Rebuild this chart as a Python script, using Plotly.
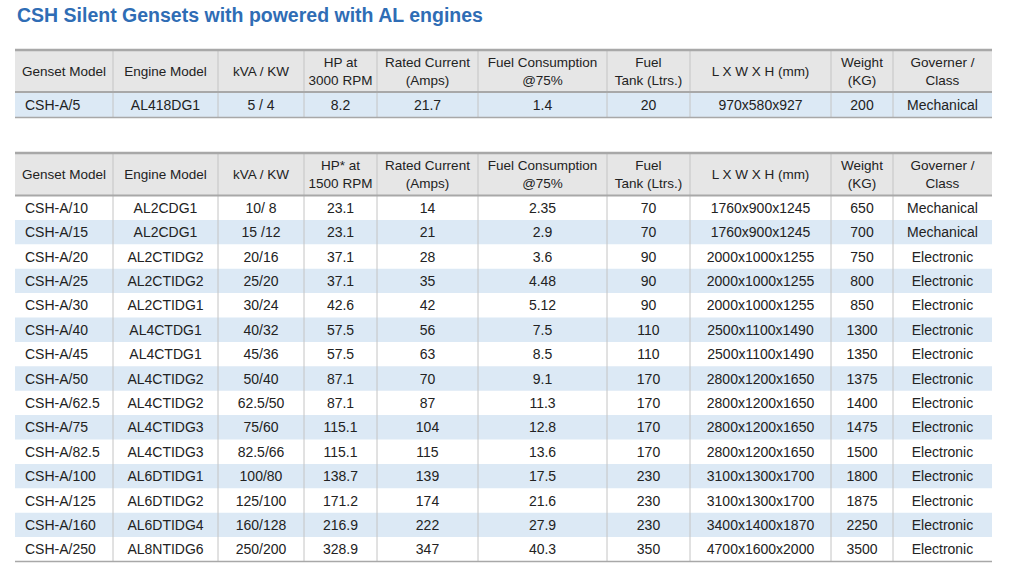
import plotly.graph_objects as go

# ---------------- data ----------------
title = "CSH Silent Gensets with powered with AL engines"

headers1 = ["Genset Model", "Engine Model", "kVA / KW", "HP at<br>3000 RPM", "Rated Current<br>(Amps)",
            "Fuel Consumption<br>@75%", "Fuel<br>Tank (Ltrs.)", "L X W X H (mm)", "Weight<br>(KG)", "Governer /<br>Class"]
headers2 = ["Genset Model", "Engine Model", "kVA / KW", "HP* at<br>1500 RPM", "Rated Current<br>(Amps)",
            "Fuel Consumption<br>@75%", "Fuel<br>Tank (Ltrs.)", "L X W X H (mm)", "Weight<br>(KG)", "Governer /<br>Class"]

t1_model = ["CSH-A/5"]
t1_engine = ["AL418DG1"]
t1_kva = ["5 / 4"]
t1_hp = ["8.2"]
t1_current = ["21.7"]
t1_fuel = ["1.4"]
t1_tank = ["20"]
t1_dims = ["970x580x927"]
t1_weight = ["200"]
t1_gov = ["Mechanical"]

t2_model = ["CSH-A/10", "CSH-A/15", "CSH-A/20", "CSH-A/25", "CSH-A/30", "CSH-A/40", "CSH-A/45", "CSH-A/50",
            "CSH-A/62.5", "CSH-A/75", "CSH-A/82.5", "CSH-A/100", "CSH-A/125", "CSH-A/160", "CSH-A/250"]
t2_engine = ["AL2CDG1", "AL2CDG1", "AL2CTIDG2", "AL2CTIDG2", "AL2CTIDG1", "AL4CTDG1", "AL4CTDG1", "AL4CTIDG2",
             "AL4CTIDG2", "AL4CTIDG3", "AL4CTIDG3", "AL6DTIDG1", "AL6DTIDG2", "AL6DTIDG4", "AL8NTIDG6"]
t2_kva = ["10/ 8", "15 /12", "20/16", "25/20", "30/24", "40/32", "45/36", "50/40", "62.5/50", "75/60",
          "82.5/66", "100/80", "125/100", "160/128", "250/200"]
t2_hp = ["23.1", "23.1", "37.1", "37.1", "42.6", "57.5", "57.5", "87.1", "87.1", "115.1", "115.1", "138.7",
         "171.2", "216.9", "328.9"]
t2_current = ["14", "21", "28", "35", "42", "56", "63", "70", "87", "104", "115", "139", "174", "222", "347"]
t2_fuel = ["2.35", "2.9", "3.6", "4.48", "5.12", "7.5", "8.5", "9.1", "11.3", "12.8", "13.6", "17.5", "21.6",
           "27.9", "40.3"]
t2_tank = ["70", "70", "90", "90", "90", "110", "110", "170", "170", "170", "170", "230", "230", "230", "350"]
t2_dims = ["1760x900x1245", "1760x900x1245", "2000x1000x1255", "2000x1000x1255", "2000x1000x1255",
           "2500x1100x1490", "2500x1100x1490", "2800x1200x1650", "2800x1200x1650", "2800x1200x1650",
           "2800x1200x1650", "3100x1300x1700", "3100x1300x1700", "3400x1400x1870", "4700x1600x2000"]
t2_weight = ["650", "700", "750", "800", "850", "1300", "1350", "1375", "1400", "1475", "1500", "1800", "1875",
             "2250", "3500"]
t2_gov = ["Mechanical", "Mechanical", "Electronic", "Electronic", "Electronic", "Electronic", "Electronic",
          "Electronic", "Electronic", "Electronic", "Electronic", "Electronic", "Electronic", "Electronic",
          "Electronic"]

table1 = [t1_model, t1_engine, t1_kva, t1_hp, t1_current, t1_fuel, t1_tank, t1_dims, t1_weight, t1_gov]
table2 = [t2_model, t2_engine, t2_kva, t2_hp, t2_current, t2_fuel, t2_tank, t2_dims, t2_weight, t2_gov]

# ---------------- layout / style ----------------
W, H = 1024, 573
col_edges = [15, 113, 218, 304, 377, 478, 607, 690, 831, 893, 992]
FONT = "Liberation Sans, Arial, Helvetica, sans-serif"
HEADER_FILL = "#e6e6e6"
STRIPE = "#dce9f5"
VLINE = "#c4c4c4"
HLINE = "#a8a8a8"
TEXT = "#222222"
TITLE_COLOR = "#2f6db5"

fig = go.Figure()
shapes = []


def draw_table(headers, columns, top, header_h, row_h, stripe_first):
    nrows = len(columns[0])
    hdr_bot = top + header_h
    bottom = hdr_bot + row_h * nrows
    # header fill
    shapes.append(dict(type="rect", xref="x", yref="y", x0=col_edges[0], x1=col_edges[-1],
                       y0=top, y1=hdr_bot, fillcolor=HEADER_FILL, line=dict(width=0), layer="below"))
    # stripes
    for i in range(nrows):
        if (i % 2 == 0) == stripe_first:
            shapes.append(dict(type="rect", xref="x", yref="y", x0=col_edges[0], x1=col_edges[-1],
                               y0=hdr_bot + row_h * i, y1=hdr_bot + row_h * (i + 1),
                               fillcolor=STRIPE, line=dict(width=0), layer="below"))
    # vertical lines
    for xe in col_edges[1:-1]:
        shapes.append(dict(type="line", xref="x", yref="y", x0=xe, x1=xe, y0=top, y1=bottom,
                           line=dict(color=VLINE, width=1)))
    # horizontal borders
    shapes.append(dict(type="line", xref="x", yref="y", x0=col_edges[0], x1=col_edges[-1], y0=top, y1=top,
                       line=dict(color=HLINE, width=2.5)))
    shapes.append(dict(type="line", xref="x", yref="y", x0=col_edges[0], x1=col_edges[-1], y0=hdr_bot,
                       y1=hdr_bot, line=dict(color=HLINE, width=2)))
    shapes.append(dict(type="line", xref="x", yref="y", x0=col_edges[0], x1=col_edges[-1], y0=bottom,
                       y1=bottom, line=dict(color=HLINE, width=1.5)))

    centers = [(col_edges[j] + col_edges[j + 1]) / 2 for j in range(len(headers))]
    # header texts
    fig.add_trace(go.Scatter(x=centers, y=[top + header_h / 2 + 1.5] * len(headers), text=headers, mode="text",
                             textposition="middle center",
                             textfont=dict(family=FONT, size=13.5, color=TEXT),
                             hoverinfo="skip", showlegend=False))
    # body texts
    ys = [hdr_bot + row_h * (i + 0.5) + 1.5 for i in range(nrows)]
    for j, col in enumerate(columns):
        if j == 0:
            xs = [col_edges[0] + 10] * nrows
            pos = "middle right"
        else:
            xs = [centers[j]] * nrows
            pos = "middle center"
        fig.add_trace(go.Scatter(x=xs, y=ys, text=col, mode="text", textposition=pos,
                                 textfont=dict(family=FONT, size=14, color=TEXT),
                                 hoverinfo="skip", showlegend=False))


draw_table(headers1, table1, top=50, header_h=42, row_h=25.5, stripe_first=True)
draw_table(headers2, table2, top=153, header_h=42.5, row_h=24.4, stripe_first=False)

fig.update_layout(
    width=W, height=H,
    margin=dict(l=0, r=0, t=0, b=0),
    paper_bgcolor="white", plot_bgcolor="white",
    shapes=shapes,
    xaxis=dict(range=[0, W], visible=False, fixedrange=True),
    yaxis=dict(range=[H, 0], visible=False, fixedrange=True),
    annotations=[dict(text="<b>" + title + "</b>", x=15, y=15, xref="x", yref="y", xanchor="left",
                      yanchor="middle", showarrow=False,
                      font=dict(family=FONT, size=19.5, color=TITLE_COLOR))],
)

fig.write_html("out.html", config={"displayModeBar": False},
               post_script="document.body.style.margin='0';document.body.style.overflow='hidden';")
